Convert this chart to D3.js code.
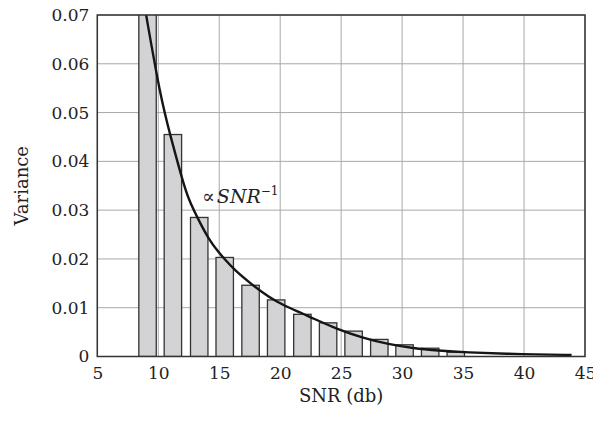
<!DOCTYPE html>
<html>
<head>
<meta charset="utf-8">
<script src="https://cdn.jsdelivr.net/npm/d3@7"></script>
<style>
    body { margin: 0; background: #fff; }
    text { font-family: "DejaVu Serif", serif; fill: #222; }
</style>
</head>
<body>
<svg id="chart"></svg>
<script>
const width = 593;
const height = 422;
const margin = {top: 15, right: 8, bottom: 65.5, left: 97.3};

// Bars: SNR bin centres and measured variance
const barSnr = [9.12, 11.2, 13.36, 15.45, 17.57, 19.67, 21.82, 23.93, 26.02, 28.13, 30.2, 32.3, 34.4];
const barVariance = [0.075, 0.0455, 0.0285, 0.0203, 0.0146, 0.0116, 0.00865, 0.0069, 0.0052, 0.0035, 0.0024, 0.0017, 0.0009];

// Fitted curve
const curveSnr = [8.7, 9.0, 10.2, 11.0, 12.0, 12.5, 13.3, 14.1, 14.9, 15.5, 16.3, 17.7, 19.0, 20.4, 21.8, 22.6, 24.7, 26.8, 28.9, 30.9, 33.0, 35.0, 40.0, 43.9];
const curveVariance = [0.0745, 0.0700, 0.0530, 0.0452, 0.0360, 0.0321, 0.0280, 0.0242, 0.0215, 0.0198, 0.0176, 0.0147, 0.0123, 0.0103, 0.0089, 0.0079, 0.0056, 0.0038, 0.0025, 0.0017, 0.0012, 0.00085, 0.00045, 0.0003];

const xTicks = [5, 10, 15, 20, 25, 30, 35, 40, 45];
const yTicks = [0, 0.01, 0.02, 0.03, 0.04, 0.05, 0.06, 0.07];

const innerW = 585 - margin.left;
const innerH = 356.5 - margin.top;

const svg = d3.select("#chart")
    .attr("width", width)
    .attr("height", height);

const g = svg.append("g")
    .attr("transform", `translate(${margin.left},${margin.top})`);

const x = d3.scaleLinear().domain([5, 45]).range([0, innerW]);
const y = d3.scaleLinear().domain([0, 0.07]).range([innerH, 0]);

svg.append("defs").append("clipPath")
    .attr("id", "plot-clip")
    .append("rect")
    .attr("width", innerW)
    .attr("height", innerH);

// grid
g.append("g")
    .selectAll("line")
    .data(xTicks)
    .join("line")
    .attr("x1", d => x(d)).attr("x2", d => x(d))
    .attr("y1", 0).attr("y2", innerH)
    .style("stroke", "#a8a8a8")
    .style("stroke-width", 1);

g.append("g")
    .selectAll("line")
    .data(yTicks)
    .join("line")
    .attr("x1", 0).attr("x2", innerW)
    .attr("y1", d => y(d)).attr("y2", d => y(d))
    .style("stroke", "#a8a8a8")
    .style("stroke-width", 1);

// bars
const barW = x(1.43) - x(0);
g.append("g")
    .attr("clip-path", "url(#plot-clip)")
    .selectAll("rect")
    .data(barSnr.map((s, i) => ({snr: s, v: barVariance[i]})))
    .join("rect")
    .attr("x", d => x(d.snr) - barW / 2)
    .attr("y", d => y(d.v))
    .attr("width", barW)
    .attr("height", d => innerH - y(d.v))
    .style("fill", "#d3d3d5")
    .style("stroke", "#333")
    .style("stroke-width", 1.3);

// curve
const line = d3.line()
    .x(d => x(d[0]))
    .y(d => y(d[1]))
    .curve(d3.curveBasis);

g.append("path")
    .attr("clip-path", "url(#plot-clip)")
    .datum(curveSnr.map((s, i) => [s, curveVariance[i]]))
    .attr("d", line)
    .style("fill", "none")
    .style("stroke", "#151515")
    .style("stroke-width", 2.4);

// frame
g.append("rect")
    .attr("width", innerW)
    .attr("height", innerH)
    .style("fill", "none")
    .style("stroke", "#333")
    .style("stroke-width", 1.5);

// axes
const xAxis = g.append("g")
    .attr("transform", `translate(0,${innerH})`)
    .call(d3.axisBottom(x).tickValues(xTicks).tickSize(0).tickPadding(10));
xAxis.select(".domain").remove();
xAxis.selectAll("text")
    .style("font-size", "17px")
    .style("font-family", "DejaVu Serif, serif")
    .style("fill", "#222");

const yAxis = g.append("g")
    .call(d3.axisLeft(y).tickValues(yTicks).tickSize(0).tickPadding(8)
        .tickFormat(d => d === 0 ? "0" : d3.format(".2f")(d)));
yAxis.select(".domain").remove();
yAxis.selectAll("text")
    .style("font-size", "17px")
    .style("font-family", "DejaVu Serif, serif")
    .style("fill", "#222");

// titles
svg.append("text")
    .attr("x", margin.left + innerW / 2)
    .attr("y", 402)
    .attr("text-anchor", "middle")
    .style("font-size", "18px")
    .text("SNR (db)");

svg.append("text")
    .attr("transform", `translate(28,${margin.top + innerH / 2}) rotate(-90)`)
    .attr("text-anchor", "middle")
    .style("font-size", "18px")
    .text("Variance");

// annotation
const note = svg.append("text")
    .attr("x", 202)
    .attr("y", 203)
    .style("font-size", "19px")
    .style("font-style", "italic");
note.append("tspan").style("font-style", "normal").text("∝");
note.append("tspan").attr("dx", 2).text("SNR");
note.append("tspan")
    .attr("dy", -8)
    .style("font-size", "12px")
    .style("font-style", "normal")
    .text("−1");
</script>
</body>
</html>
